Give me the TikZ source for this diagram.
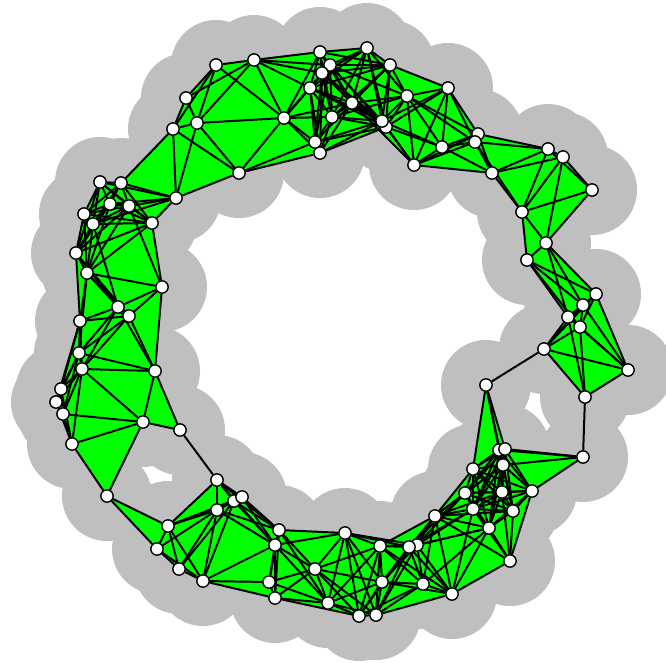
\documentclass[tikz,border=0pt]{standalone}
\usepackage{tikz}
\usetikzlibrary{backgrounds}

\newcommand{\xof}[1]{\csname xp#1\endcsname}
\newcommand{\yof}[1]{\csname yp#1\endcsname}
\newcommand{\reach}{88}

\tikzset{
  site/.style={circle, draw=black, fill=white, line width=1.2pt, minimum size=0.37cm, inner sep=0pt},
  link/.style={draw=black, line width=1.7pt},
  cell/.style={fill=green},
  halo/.style={fill=black!25}
}

\begin{document}
\begin{tikzpicture}[x=0.03cm, y=-0.03cm]
  \useasboundingbox (0,0) rectangle (666,662);

  % Sample points around the ring
  \foreach \x/\y [count=\i] in {
    216/65,254/60,320/52,330/65,322/73,310/88,186/98,197/123,173/129,284/118,
    332/117,320/153,315/142,239/173,176/198,367/48,390/65,352/103,407/96,448/88,
    386/127,382/121,442/147,414/165,478/134,475/142,492/173,548/149,563/157,592/190,
    522/212,546/243,527/260,596/294,583/305,568/317,580/327,544/349,628/370,585/397,
    486/385,583/457,499/450,505/449,503/465,473/469,465/493,502/492,532/491,473/509,
    513/511,489/528,435/516,510/561,452/594,423/584,279/530,345/533,275/545,380/546,
    417/545,409/547,315/569,269/582,382/582,275/598,328/603,359/616,376/615,107/496,
    217/480,234/501,242/497,217/510,168/526,157/549,179/569,203/581,118/307,129/316,
    80/321,79/353,82/369,155/371,61/389,56/402,63/414,143/422,180/430,72/444,
    100/182,121/183,110/204,129/206,84/214,93/224,152/223,76/253,87/273,162/287}{
    \node[site] (n\i) at (\x,\y) {};
    \expandafter\xdef\csname xp\i\endcsname{\x}
    \expandafter\xdef\csname yp\i\endcsname{\y}
    \xdef\npts{\i}
  }

  \begin{scope}[on background layer]
    % Grey balls
    \foreach \i in {1,...,\npts}{
      \fill[halo] (n\i.center) circle (45);
    }

    % Pairs closer than the reach
    \foreach \i in {1,...,\npts}{
      \expandafter\xdef\csname nb\i\endcsname{0}
      \foreach \j in {1,...,\npts}{
        \ifnum\j>\i
          \pgfmathparse{veclen(\xof{\i}-\xof{\j},\yof{\i}-\yof{\j})}
          \ifdim\pgfmathresult pt<\reach pt
            \expandafter\gdef\csname a-\i-\j\endcsname{}
            \expandafter\xdef\csname nb\i\endcsname{\csname nb\i\endcsname,\j}
          \fi
        \fi
      }
    }

    % Green triangles
    \foreach \i in {1,...,\npts}{
      \edef\nbs{\csname nb\i\endcsname}
      \foreach \j in \nbs {
        \foreach \k in \nbs {
          \ifcsname a-\j-\k\endcsname
            \fill[cell] (n\i.center) -- (n\j.center) -- (n\k.center) -- cycle;
          \fi
        }
      }
    }

    % Edges
    \foreach \i in {1,...,\npts}{
      \edef\nbs{\csname nb\i\endcsname}
      \foreach \j in \nbs {
        \ifnum\j>0
          \draw[link] (n\i) -- (n\j);
        \fi
      }
    }
  \end{scope}
\end{tikzpicture}
\end{document}
